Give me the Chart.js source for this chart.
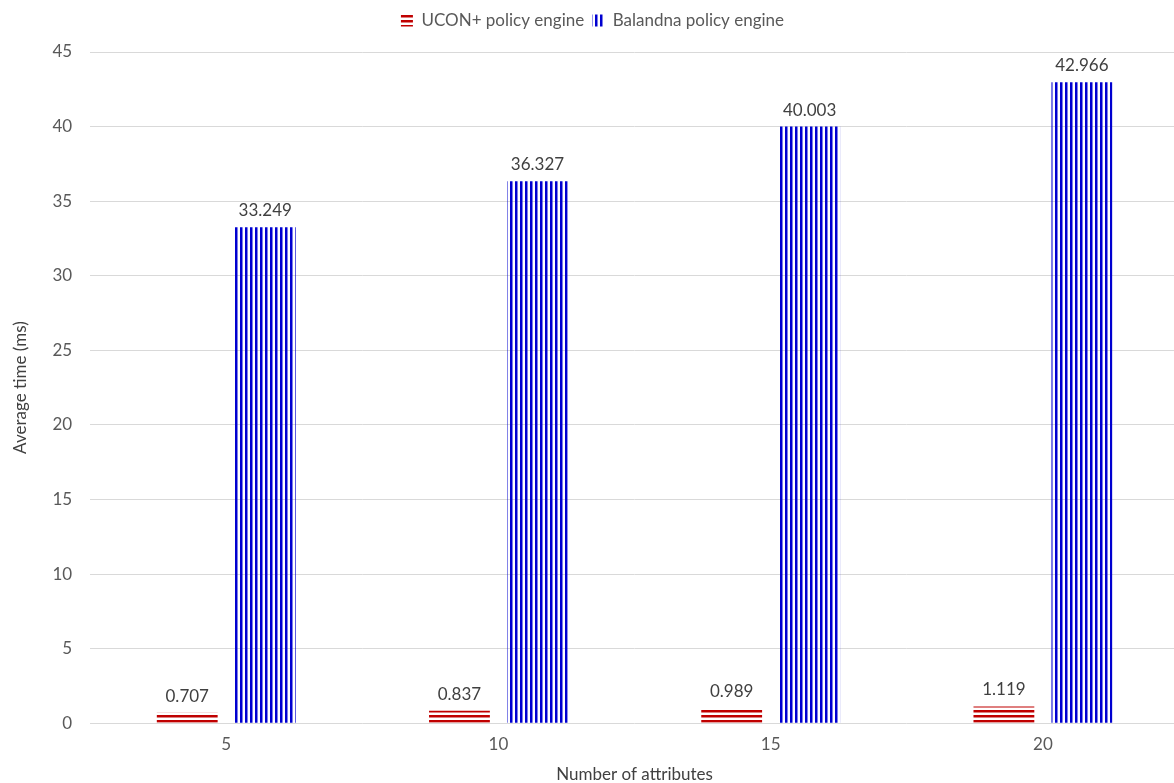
<!DOCTYPE html>
<html>
<head>
<meta charset="utf-8">
<script src="https://cdn.jsdelivr.net/npm/chart.js@4.4.0/dist/chart.umd.min.js"></script>
<style>
  html, body { margin: 0; padding: 0; overflow: hidden; background: #fff; }
  #wrap { position: absolute; left: 0; top: 0; width: 1179px; height: 789px; }
</style>
</head>
<body>
<div id="wrap"><canvas id="timeChart"></canvas></div>
<script>
const attributeCounts = ['5', '10', '15', '20'];
const uconTimes = [0.707, 0.837, 0.989, 1.119];
const balandnaTimes = [33.249, 36.327, 40.003, 42.966];
const yTicks = [0, 5, 10, 15, 20, 25, 30, 35, 40, 45];

const FONT = 'Lato, "Open Sans", sans-serif';

function stripes(color, vertical) {
  const c = document.createElement('canvas');
  c.width = 5;
  c.height = 5;
  const g = c.getContext('2d');
  g.fillStyle = color;
  if (vertical) g.fillRect(0, 0, 2.5, 5);
  else g.fillRect(0, 0, 5, 2.5);
  return g.createPattern(c, 'repeat');
}

// extra room under the legend
const legendGap = {
  id: 'legendGap',
  beforeInit(chart) {
    const fit = chart.legend.fit;
    chart.legend.fit = function () {
      fit.bind(chart.legend)();
      this.height += 13;
    };
  }
};

const valueLabels = {
  id: 'valueLabels',
  afterDatasetsDraw(chart) {
    const ctx = chart.ctx;
    ctx.save();
    ctx.font = '17px ' + FONT;
    ctx.fillStyle = '#404040';
    ctx.textAlign = 'center';
    ctx.textBaseline = 'bottom';
    chart.data.datasets.forEach((ds, i) => {
      chart.getDatasetMeta(i).data.forEach((bar, j) => {
        ctx.fillText(ds.data[j].toFixed(3), bar.x, bar.y - 8);
      });
    });
    ctx.restore();
  }
};

document.addEventListener('DOMContentLoaded', function () {
  const ctx = document.getElementById('timeChart').getContext('2d');
  new Chart(ctx, {
    type: 'bar',
    data: {
      labels: attributeCounts,
      datasets: [
        {
          label: 'UCON+ policy engine',
          data: uconTimes,
          backgroundColor: stripes('#c00000', false),
          borderWidth: 0
        },
        {
          label: 'Balandna policy engine',
          data: balandnaTimes,
          backgroundColor: stripes('#0000d0', true),
          borderWidth: 0
        }
      ]
    },
    options: {
      responsive: true,
      maintainAspectRatio: false,
      animation: false,
      categoryPercentage: 0.573,
      barPercentage: 0.78,
      layout: { padding: { left: 6, right: 0, top: 4, bottom: 0 } },
      scales: {
        x: {
          grid: { display: false },
          border: { display: false },
          ticks: { color: '#595959', font: { family: FONT, size: 17 }, padding: 3 },
          title: {
            display: true,
            text: 'Number of attributes',
            color: '#404040',
            font: { family: FONT, size: 17 },
            padding: { top: 7 }
          }
        },
        y: {
          min: 0,
          max: 45,
          afterBuildTicks: axis => { axis.ticks = yTicks.map(v => ({ value: v })); },
          grid: { color: '#d9d9d9', drawTicks: false },
          border: { display: false },
          ticks: { color: '#595959', font: { family: FONT, size: 17 }, padding: 18 },
          title: {
            display: true,
            text: 'Average time (ms)',
            color: '#404040',
            font: { family: FONT, size: 17 },
            padding: { bottom: 4 }
          }
        }
      },
      plugins: {
        legend: {
          position: 'top',
          labels: {
            color: '#595959',
            font: { family: FONT, size: 17 },
            boxWidth: 12,
            boxHeight: 12,
            padding: 8
          }
        },
        tooltip: { enabled: false }
      }
    },
    plugins: [legendGap, valueLabels]
  });
});
</script>
</body>
</html>
